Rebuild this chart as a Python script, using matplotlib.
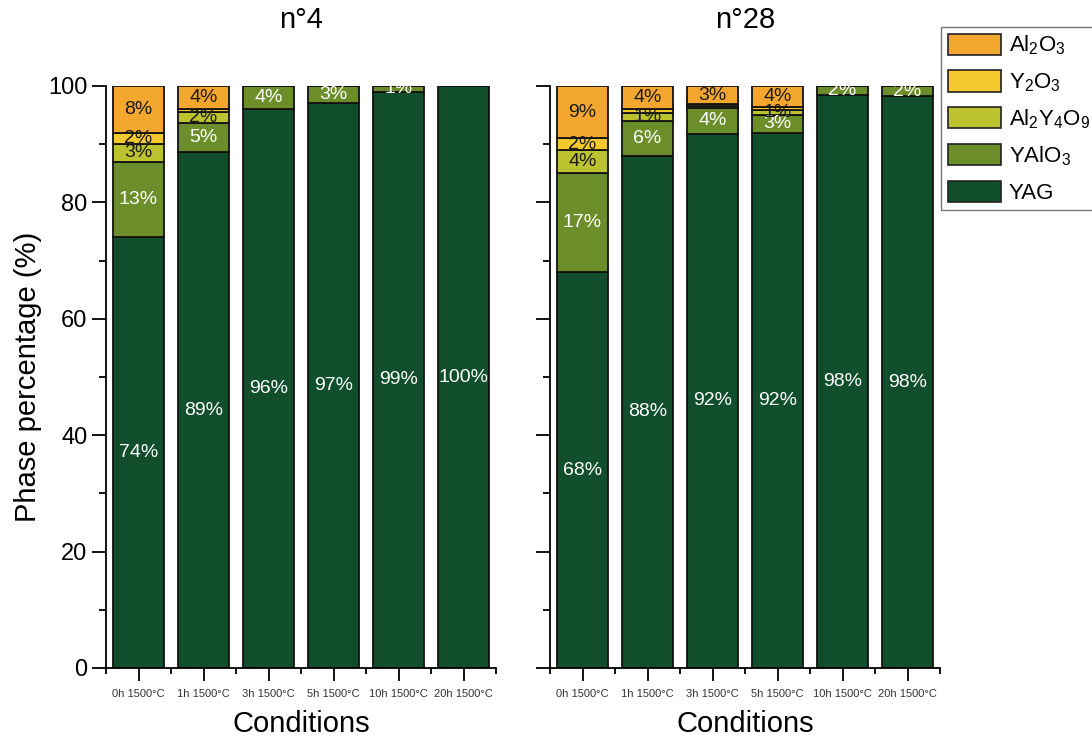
import numpy as np
import matplotlib
matplotlib.use("Agg")
import matplotlib.pyplot as plt
from matplotlib.patches import Patch
from matplotlib.ticker import MultipleLocator, FixedLocator

plt.rcParams['font.family'] = ['Liberation Sans', 'DejaVu Sans']
plt.rcParams['mathtext.default'] = 'regular'

# Data (phase percentages, bottom -> top of each stack)
conditions = ["0h 1500°C", "1h 1500°C", "3h 1500°C", "5h 1500°C", "10h 1500°C", "20h 1500°C"]
phases = ["YAG", "YAlO3", "Al2Y4O9", "Y2O3", "Al2O3"]
phase_labels = ["YAG", r"YAlO$_3$", r"Al$_2$Y$_4$O$_9$", r"Y$_2$O$_3$", r"Al$_2$O$_3$"]

yag_4 = [74, 88.6, 96, 97, 99, 100]
yalo3_4 = [13, 5, 4, 3, 1, 0]
al2y4o9_4 = [3, 2, 0, 0, 0, 0]
y2o3_4 = [2, 0.5, 0, 0, 0, 0]
al2o3_4 = [8, 3.9, 0, 0, 0, 0]

yag_28 = [68, 88, 91.8, 91.9, 98.4, 98.2]
yalo3_28 = [17, 6, 4.4, 3.2, 1.6, 1.8]
al2y4o9_28 = [4, 1.4, 0.4, 0.8, 0, 0]
y2o3_28 = [2, 0.6, 0.3, 0.5, 0, 0]
al2o3_28 = [9, 4, 3.1, 3.6, 0, 0]

colors = {
    "YAG": "#114f2c",
    "YAlO3": "#6b8e2a",
    "Al2Y4O9": "#bdc22f",
    "Y2O3": "#f5c82e",
    "Al2O3": "#f4a72f",
}
text_colors = {
    "YAG": "white",
    "YAlO3": "white",
    "Al2Y4O9": "#1a1a1a",
    "Y2O3": "#1a1a1a",
    "Al2O3": "#1a1a1a",
}

fig = plt.figure(figsize=(10.92, 7.42), dpi=100)
ax1 = fig.add_axes([106 / 1092, 74 / 742, 390 / 1092, 582 / 742])
ax2 = fig.add_axes([550 / 1092, 74 / 742, 390 / 1092, 582 / 742])


def draw_panel(ax, series, title, show_ylabels):
    x = np.arange(len(conditions))
    bottom = np.zeros(len(conditions))
    for name in phases:
        vals = np.array(series[name], dtype=float)
        ax.bar(x, vals, width=0.78, bottom=bottom, color=colors[name],
               edgecolor="#111111", linewidth=1.3, zorder=2)
        for i, v in enumerate(vals):
            if v >= 0.7:
                ax.text(x[i], bottom[i] + v / 2, f"{v:.0f}%", ha="center", va="center",
                        fontsize=14, color=text_colors[name], zorder=3)
        bottom += vals

    ax.set_xlim(-0.5, 5.5)
    ax.set_ylim(0, 100)
    ax.spines["top"].set_visible(False)
    ax.spines["right"].set_visible(False)
    for s in ("left", "bottom"):
        ax.spines[s].set_linewidth(1.3)
    ax.set_xticks(x)
    ax.set_xticklabels(conditions, fontsize=8, color="#333333")
    ax.xaxis.set_minor_locator(FixedLocator(np.arange(-0.5, 6, 1)))
    ax.yaxis.set_major_locator(MultipleLocator(20))
    ax.yaxis.set_minor_locator(MultipleLocator(10))
    ax.tick_params(axis="x", which="major", direction="out", length=9, width=1.3, pad=6)
    ax.tick_params(axis="x", which="minor", direction="out", length=4, width=1.3)
    ax.tick_params(axis="y", which="major", direction="out", length=10, width=1.3,
                   labelsize=17, labelleft=show_ylabels)
    ax.tick_params(axis="y", which="minor", direction="out", length=5, width=1.3)
    ax.set_title(title, fontsize=21, pad=42)
    ax.set_xlabel("Conditions", fontsize=21, labelpad=8)


draw_panel(ax1, {"YAG": yag_4, "YAlO3": yalo3_4, "Al2Y4O9": al2y4o9_4,
                 "Y2O3": y2o3_4, "Al2O3": al2o3_4}, "n°4", True)
draw_panel(ax2, {"YAG": yag_28, "YAlO3": yalo3_28, "Al2Y4O9": al2y4o9_28,
                 "Y2O3": y2o3_28, "Al2O3": al2o3_28}, "n°28", False)
ax1.set_ylabel("Phase percentage (%)", fontsize=21, labelpad=4)

handles = [Patch(facecolor=colors[p], edgecolor="#222222", linewidth=1.2) for p in phases]
leg = fig.legend(handles[::-1], phase_labels[::-1], loc="upper left",
                 bbox_to_anchor=(941 / 1092, 1 - 27 / 742), fontsize=16,
                 frameon=True, fancybox=False, edgecolor="#555555",
                 handlelength=2.4, handleheight=1.1, labelspacing=0.58,
                 handletextpad=0.35, borderpad=0.3, borderaxespad=0)
leg.get_frame().set_linewidth(1.0)

fig.savefig("out.png", dpi=100)
